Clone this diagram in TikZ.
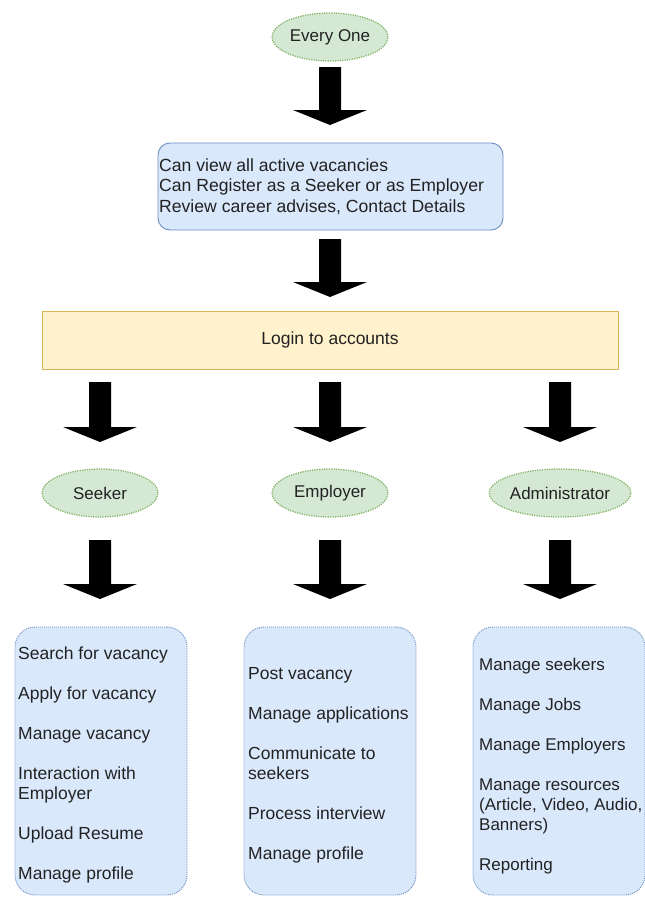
\documentclass[tikz,border=0pt]{standalone}
\usepackage{fontspec}
\setmainfont{Liberation Sans}
\usetikzlibrary{shapes.geometric}
\definecolor{gfill}{HTML}{D5E8D4}
\definecolor{gdraw}{HTML}{82B366}
\definecolor{bfill}{HTML}{DAE8FC}
\definecolor{bdraw}{HTML}{6C8EBF}
\definecolor{yfill}{HTML}{FFF2CC}
\definecolor{ydraw}{HTML}{D6B656}
\definecolor{txt}{HTML}{222222}
\newcommand\blockarrow[3]{%
  \fill[black] (#1-11,#2) -- (#1+11,#2) -- (#1+11,#3-15) -- (#1+37,#3-15)
    -- (#1,#3) -- (#1-37,#3-15) -- (#1-11,#3-15) -- cycle;}
\begin{document}
\begin{tikzpicture}[x=1pt,y=-1pt,
  every node/.style={text=txt,font=\fontsize{17.5}{20}\selectfont,inner sep=0pt},
  ell/.style={ellipse,fill=gfill,draw=gdraw,line width=1.3pt,dash pattern=on 1.2pt off 1.2pt,
    minimum width=116pt,minimum height=48pt,font=\fontsize{17}{20}\selectfont},
  topbox/.style={rectangle,rounded corners=12pt,fill=bfill,draw=bdraw,line width=0.9pt,
    minimum width=345pt,minimum height=87pt},
  loginbox/.style={rectangle,fill=yfill,draw=ydraw,line width=1pt,
    minimum width=576pt,minimum height=58pt,font=\fontsize{17.5}{20}\selectfont},
  listbox/.style={rectangle,rounded corners=20pt,fill=bfill,draw=bdraw,line width=0.9pt,
    dash pattern=on 1pt off 1pt,minimum width=172pt,minimum height=268pt},
  listtext/.style={anchor=base west,align=left}]
\useasboundingbox (0,0) rectangle (645,898);

\node[ell] (every) at (330,37) {Every One};
\blockarrow{330}{67}{125}

\node[topbox] (info) at (330.5,186.5) {};
\node[listtext,font=\fontsize{17.6}{20.5}\selectfont] (infotext) at (159,212) {Can view all active vacancies\\
Can Register as a Seeker or as Employer\\
Review career advises, Contact Details};
\blockarrow{330}{239}{297}

\node[loginbox] (login) at (330,340) {Login to accounts};

\blockarrow{100}{382}{442}
\blockarrow{330}{382}{442}
\blockarrow{560}{382}{442}

\node[ell] (seeker) at (100,493) {Seeker};
\node[ell] (employer) at (330,493) {Employer};
\node[ell] (admin) at (560,493) {Administrator};

\blockarrow{100}{540}{599}
\blockarrow{330}{540}{599}
\blockarrow{560}{540}{599}

\node[listbox] (seekbox) at (101,761) {};
\node[listbox] (empbox) at (330,761) {};
\node[listbox] (admbox) at (559,761) {};

\node[listtext] (seektext) at (18,879) {Search for vacancy\\[20pt]
Apply for vacancy\\[20pt]
Manage vacancy\\[20pt]
Interaction with\\ Employer\\[20pt]
Upload Resume\\[20pt]
Manage profile};
\node[listtext] (emptext) at (248,859) {Post vacancy\\[20pt]
Manage applications\\[20pt]
Communicate to\\ seekers\\[20pt]
Process interview\\[20pt]
Manage profile};
\node[listtext,font=\fontsize{17}{20}\selectfont] (admtext) at (479,870) {Manage seekers\\[20pt]
Manage Jobs\\[20pt]
Manage Employers\\[20pt]
Manage resources\\ (Article, Video, Audio,\\ Banners)\\[20pt]
Reporting};
\end{tikzpicture}
\end{document}
